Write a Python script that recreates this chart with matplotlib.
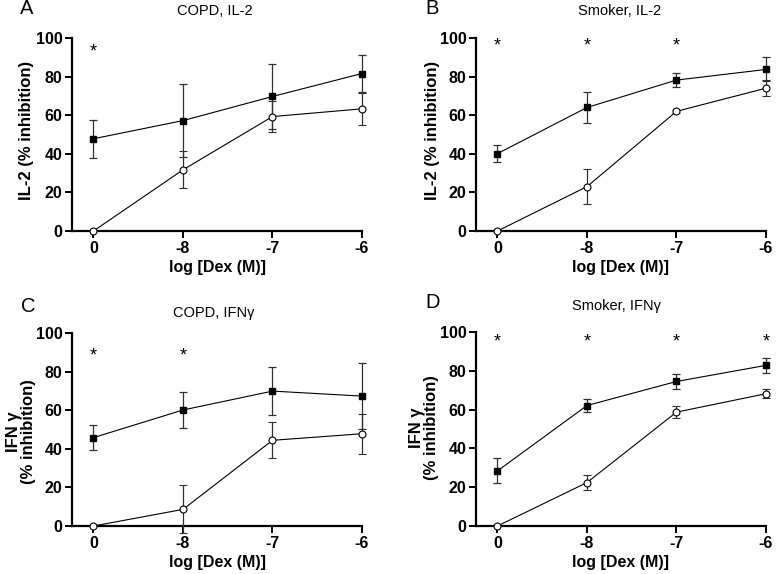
import numpy as np
import matplotlib.pyplot as plt

plt.rcParams['font.family'] = ['Liberation Sans', 'DejaVu Sans']

xlabels = ["0", "-8", "-7", "-6"]

titles = ["COPD, IL-2", "Smoker, IL-2", "COPD, IFNγ", "Smoker, IFNγ"]
letters = ["A", "B", "C", "D"]
ylabels = ["IL-2 (% inhibition)", "IL-2 (% inhibition)",
           "IFN γ\n(% inhibition)", "IFN γ\n(% inhibition)"]

# filled squares
sq_mean = [
    [47.8, 57.2, 69.7, 81.6],
    [40.1, 64.0, 78.2, 83.7],
    [45.8, 60.1, 69.9, 67.3],
    [28.4, 62.1, 74.5, 82.8],
]
sq_err = [
    [9.9, 19.0, 17.0, 9.6],
    [4.3, 8.2, 3.7, 6.2],
    [6.6, 9.5, 12.6, 17.2],
    [6.4, 3.2, 4.1, 3.9],
]
# open circles
ci_mean = [
    [0, 31.7, 59.3, 63.3],
    [0, 23.0, 62.0, 74.0],
    [0, 8.6, 44.4, 47.8],
    [0, 22.4, 58.7, 68.2],
]
ci_err = [
    [0, 9.5, 7.9, 8.3],
    [0, 9.2, 0.8, 4.0],
    [0, 12.4, 9.3, 10.3],
    [0, 3.7, 2.9, 2.3],
]
# significance stars (x positions)
stars = [[0], [0, 1, 2], [0, 1], [0, 1, 2, 3]]
star_y = [93, 96, 88, 95]

FW, FH = 778, 574
fig = plt.figure(figsize=(FW / 100, FH / 100), dpi=100)

def fx(px):
    return px / FW

def fy(py):
    return 1 - py / FH

# axes boxes in pixels: left, top, right, bottom
boxes = [(72, 38, 362, 231), (476, 38, 766, 231),
         (72, 333, 362, 526), (476, 332, 766, 526)]
title_pos = [(215, 11), (620, 11), (214, 313), (616, 306)]
letter_pos = [(20, 9), (425, 9), (21, 307), (425, 303)]
ylab_pos = [(26.5, 130), (433, 130), (21, 432), (424, 428)]

x = np.arange(4)
for i in range(4):
    l, t, r, b = boxes[i]
    ax = fig.add_axes([fx(l), fy(b), fx(r - l), (b - t) / FH])
    ax.errorbar(x, sq_mean[i], yerr=sq_err[i], color='black', lw=0.8,
                marker='s', ms=5, mfc='black', mec='black',
                ecolor='#303030', elinewidth=0.9, capsize=2.6, capthick=0.9,
                clip_on=False, zorder=3)
    ax.errorbar(x, ci_mean[i], yerr=ci_err[i], color='black', lw=0.8,
                marker='o', ms=5, mfc='white', mec='black', mew=0.8,
                ecolor='#303030', elinewidth=0.9, capsize=2.6, capthick=0.9,
                clip_on=False, zorder=4)
    for s in stars[i]:
        ax.text(s, star_y[i], "*", ha='center', va='center', fontsize=13)

    ax.set_xlim(-0.24, 3.0)
    ax.set_ylim(0, 100)
    ax.set_xticks(x)
    ax.set_xticklabels(xlabels)
    ax.set_yticks([0, 20, 40, 60, 80, 100])
    for sp in ['top', 'right']:
        ax.spines[sp].set_visible(False)
    for sp in ['left', 'bottom']:
        ax.spines[sp].set_linewidth(1.6)
    ax.tick_params(width=1.4, length=5, labelsize=11.5, pad=2)
    for lab in ax.get_xticklabels() + ax.get_yticklabels():
        lab.set_fontweight('bold')
    ax.set_xlabel("log [Dex (M)]", fontsize=11.5, fontweight='bold', labelpad=3)

    fig.text(fx(ylab_pos[i][0]), fy(ylab_pos[i][1]), ylabels[i], rotation=90,
             ha='center', va='center', fontsize=12, fontweight='bold',
             linespacing=0.95, multialignment='center')
    fig.text(fx(title_pos[i][0]), fy(title_pos[i][1]), titles[i],
             ha='center', va='center', fontsize=10.5)
    fig.text(fx(letter_pos[i][0]), fy(letter_pos[i][1]), letters[i],
             ha='left', va='center', fontsize=14.5)

fig.savefig("out.png", dpi=100)
